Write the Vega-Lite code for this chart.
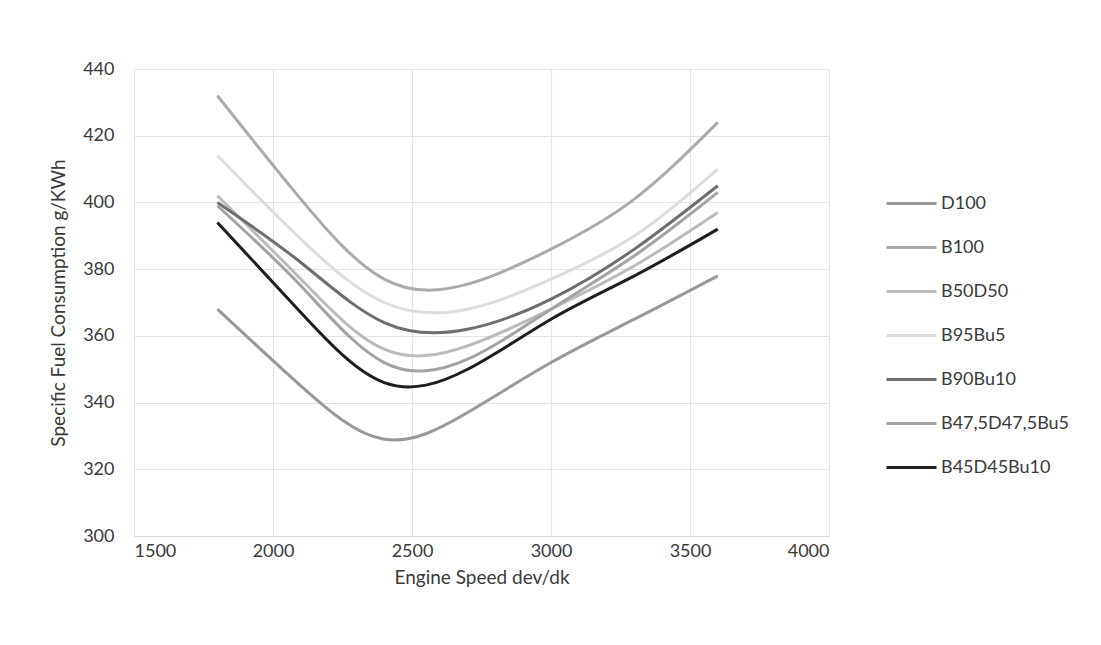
{
  "$schema": "https://vega.github.io/schema/vega-lite/v6.json",
  "width": 695,
  "height": 467,
  "autosize": {"type": "none"},
  "padding": {"left": 134, "top": 69, "right": 272, "bottom": 109},
  "background": "white",
  "config": {
    "font": "Lato",
    "view": {"stroke": null},
    "axis": {"labelColor": "#3a3a3a", "titleColor": "#3a3a3a", "labelFontSize": 18, "titleFontSize": 19, "titleFontWeight": "normal", "gridColor": "#e4e4e4", "gridWidth": 1.2, "ticks": false, "domain": false}
  },
  "data": {
    "values": [
      {"s": "D100", "x": 1800, "y": 368},
      {"s": "D100", "x": 2100, "y": 345},
      {"s": "D100", "x": 2400, "y": 329},
      {"s": "D100", "x": 2700, "y": 337},
      {"s": "D100", "x": 3000, "y": 352},
      {"s": "D100", "x": 3300, "y": 365},
      {"s": "D100", "x": 3600, "y": 378},
      {"s": "B100", "x": 1800, "y": 432},
      {"s": "B100", "x": 2100, "y": 401},
      {"s": "B100", "x": 2400, "y": 377},
      {"s": "B100", "x": 2700, "y": 375.5},
      {"s": "B100", "x": 3000, "y": 386},
      {"s": "B100", "x": 3300, "y": 401},
      {"s": "B100", "x": 3600, "y": 424},
      {"s": "B50D50", "x": 1800, "y": 402},
      {"s": "B50D50", "x": 2100, "y": 377},
      {"s": "B50D50", "x": 2400, "y": 356},
      {"s": "B50D50", "x": 2700, "y": 357},
      {"s": "B50D50", "x": 3000, "y": 368},
      {"s": "B50D50", "x": 3300, "y": 381},
      {"s": "B50D50", "x": 3600, "y": 397},
      {"s": "B95Bu5", "x": 1800, "y": 414},
      {"s": "B95Bu5", "x": 2100, "y": 389},
      {"s": "B95Bu5", "x": 2400, "y": 370},
      {"s": "B95Bu5", "x": 2700, "y": 368},
      {"s": "B95Bu5", "x": 3000, "y": 377},
      {"s": "B95Bu5", "x": 3300, "y": 390},
      {"s": "B95Bu5", "x": 3600, "y": 410},
      {"s": "B90Bu10", "x": 1800, "y": 400},
      {"s": "B90Bu10", "x": 2100, "y": 382},
      {"s": "B90Bu10", "x": 2400, "y": 364},
      {"s": "B90Bu10", "x": 2700, "y": 362},
      {"s": "B90Bu10", "x": 3000, "y": 371},
      {"s": "B90Bu10", "x": 3300, "y": 386},
      {"s": "B90Bu10", "x": 3600, "y": 405},
      {"s": "B47,5D47,5Bu5", "x": 1800, "y": 399},
      {"s": "B47,5D47,5Bu5", "x": 2100, "y": 375},
      {"s": "B47,5D47,5Bu5", "x": 2400, "y": 352},
      {"s": "B47,5D47,5Bu5", "x": 2700, "y": 353},
      {"s": "B47,5D47,5Bu5", "x": 3000, "y": 368},
      {"s": "B47,5D47,5Bu5", "x": 3300, "y": 384},
      {"s": "B47,5D47,5Bu5", "x": 3600, "y": 403},
      {"s": "B45D45Bu10", "x": 1800, "y": 394},
      {"s": "B45D45Bu10", "x": 2100, "y": 367},
      {"s": "B45D45Bu10", "x": 2400, "y": 346},
      {"s": "B45D45Bu10", "x": 2700, "y": 350},
      {"s": "B45D45Bu10", "x": 3000, "y": 365},
      {"s": "B45D45Bu10", "x": 3300, "y": 378},
      {"s": "B45D45Bu10", "x": 3600, "y": 392}
    ]
  },
  "mark": {"type": "line", "interpolate": "natural", "strokeWidth": 3},
  "encoding": {
    "x": {
      "field": "x", "type": "quantitative", "title": "Engine Speed dev/dk",
      "scale": {"domain": [1500, 4000], "nice": false},
      "axis": {"values": [1500, 2000, 2500, 3000, 3500, 4000], "format": "d", "labelPadding": 6, "titlePadding": 8, "domain": true, "domainColor": "#d9d9d9", "domainWidth": 1.2}
    },
    "y": {
      "field": "y", "type": "quantitative", "title": "Specific Fuel Consumption g/KWh",
      "scale": {"domain": [300, 440], "nice": false, "zero": false},
      "axis": {"values": [300, 320, 340, 360, 380, 400, 420, 440], "labelPadding": 20, "titlePadding": 14}
    },
    "color": {
      "field": "s", "type": "nominal", "title": null,
      "sort": ["D100", "B100", "B50D50", "B95Bu5", "B90Bu10", "B47,5D47,5Bu5", "B45D45Bu10"],
      "scale": {
        "domain": ["D100", "B100", "B50D50", "B95Bu5", "B90Bu10", "B47,5D47,5Bu5", "B45D45Bu10"],
        "range": ["#999999", "#ababab", "#bbbbbb", "#dddddd", "#6e6e6e", "#a3a3a3", "#1e1e1e"]
      },
      "legend": {
        "orient": "none", "legendX": 751, "legendY": 108,
        "symbolType": "stroke", "symbolSize": 2500, "symbolStrokeWidth": 3,
        "labelFontSize": 18, "labelColor": "#3a3a3a", "labelOffset": 3,
        "rowPadding": 8
      }
    }
  }
}
